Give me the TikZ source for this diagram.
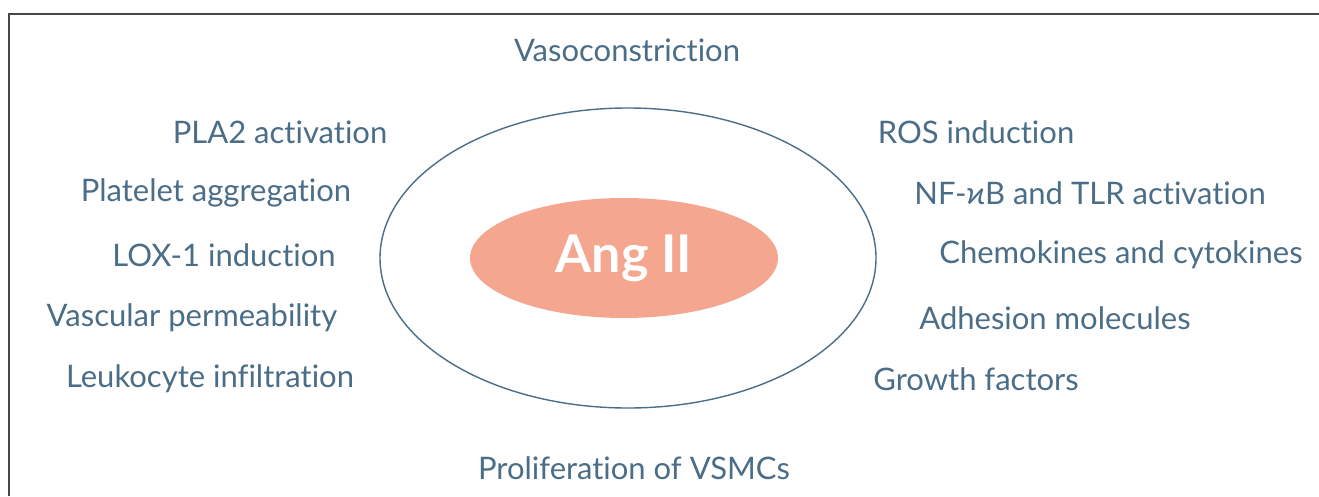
\documentclass[tikz,border=0pt]{standalone}
\usepackage{fontspec}
\setmainfont{Lato}[Ligatures={NoCommon}]
\usetikzlibrary{positioning,shapes.geometric}
\definecolor{slate}{RGB}{74,109,136}
\definecolor{salmon}{RGB}{244,166,143}
\definecolor{frame}{RGB}{70,70,70}

\begin{document}
\begin{tikzpicture}[
    x=1pt, y=-1pt,
    effect/.style={text=slate, font=\fontsize{31}{36}\selectfont, inner sep=0pt, anchor=center},
    ring/.style={ellipse, draw=slate, line width=1.4pt, inner sep=0pt},
    core/.style={ellipse, fill=salmon, inner sep=0pt, text=white,
                 font=\fontsize{52}{60}\selectfont\bfseries}
]
\useasboundingbox (0,0) rectangle (1319,496);
% frame
\draw[frame, line width=2pt] (9,496) -- (9,14) -- (1319,14);

% rings
\node[ring, minimum width=496pt, minimum height=300pt] (outer) at (628,258) {};
\node[core, minimum width=308pt, minimum height=120pt] (angii) at (624,258) {Ang II};

% top and bottom
\node[effect] (vaso) at (627,50) {Vasoconstriction};
\node[effect] (prolif) at (634,468) {Proliferation of VSMCs};

% left side
\node[effect] (pla) at (280,132) {PLA2 activation};
\node[effect] (platelet) at (216,193) {Platelet aggregation};
\node[effect] (lox) at (224,255) {LOX-1 induction};
\node[effect] (perm) at (192,318) {Vascular permeability};
\node[effect] (leuko) at (210,379) {Leukocyte infiltration};

% right side
\node[effect] (ros) at (976,132) {ROS induction};
\node[effect] (nfkb) at (1090,193) {NF-ϰB and TLR activation};
\node[effect] (chemo) at (1121,255) {Chemokines and cytokines};
\node[effect] (adhes) at (1055,318) {Adhesion molecules};
\node[effect] (growth) at (976,379) {Growth factors};
\end{tikzpicture}
\end{document}
